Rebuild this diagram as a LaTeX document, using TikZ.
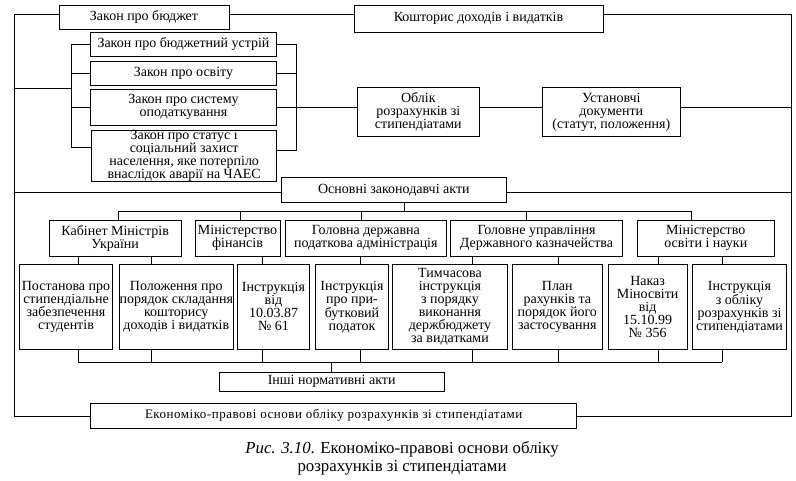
\documentclass[tikz,border=0pt]{standalone}
\usepackage{fontspec}
\setmainfont{Liberation Serif}
\usetikzlibrary{calc}
\tikzset{
  box/.style={draw, line width=0.9pt, inner sep=0pt, align=center, font=\fontsize{14}{13}\selectfont},
  smallbox/.style={box, font=\fontsize{13}{13}\selectfont\addfontfeature{LetterSpace=4}},
  conn/.style={line width=0.9pt},
  capt/.style={align=center, inner sep=0pt, font=\fontsize{16.8}{18}\selectfont}
}
\newcommand\bx[7][box]{\node[#1, minimum width={#5-#3}, minimum height={#6-#4}] (#2) at ({(#3+#5)/2},{(#4+#6)/2}) {#7};}
\begin{document}
\begin{tikzpicture}[x=1pt,y=-1pt]
\useasboundingbox (0,0) rectangle (796,481);
% top
\bx{zb}{59}{5}{229}{29}{Закон про бюджет}
\bx{kd}{354}{5}{603}{32}{Кошторис доходів і видатків}
\bx{l1}{90.3}{32.3}{276.7}{56}{Закон про бюджетний устрій}
\bx{l2}{90.3}{61}{276.7}{85.3}{Закон про освіту}
\bx{l3}{90.3}{89.3}{276.7}{125.3}{Закон про систему\\оподаткування}
\bx{l4}{91.7}{130}{276.7}{181.3}{Закон про статус і\\соціальний захист\\населення, яке потерпіло\\внаслідок аварії на ЧАЕС}
\bx{ob}{357.3}{87.3}{479.3}{136.7}{Облік\\розрахунків зі\\стипендіатами}
\bx{us}{542.7}{87.3}{680}{136.7}{Установчі\\документи\\(статут, положення)}
\bx{os}{281}{177.3}{506.7}{202.3}{Основні законодавчі акти}
% row 2
\bx{r2a}{49.3}{220}{181}{256.5}{Кабінет Міністрів\\України}
\bx{r2b}{195}{220}{280}{256.5}{Міністерство\\фінансів}
\bx{r2c}{285}{220}{446.7}{256.5}{Головна державна\\податкова адміністрація}
\bx{r2d}{450.7}{220}{622.3}{256.5}{Головне управління\\Державного казначейства}
\bx{r2e}{637.3}{220}{774.3}{256.5}{Міністерство\\освіти і науки}
% row 3
\bx{r3a}{19.3}{264}{112.7}{349.5}{Постанова про\\стипендіальне\\забезпечення\\студентів}
\bx{r3b}{120.3}{264}{232.3}{349.5}{Положення про\\порядок складання\\кошторису\\доходів і видатків}
\bx{r3c}{237.3}{264}{309.7}{349.5}{Інструкція\\від\\10.03.87\\№ 61}
\bx{r3d}{315.3}{264}{388.7}{349.5}{Інструкція\\про при-\\бутковий\\податок}
\bx{r3e}{392.3}{264}{507.7}{349.5}{Тимчасова\\інструкція\\з порядку\\виконання\\держбюджету\\за видатками}
\bx{r3f}{512.3}{264}{602.3}{349.5}{План\\рахунків та\\порядок його\\застосування}
\bx{r3g}{608.3}{264}{687}{349.5}{Наказ\\Міносвіти\\від\\15.10.99\\№ 356}
\bx{r3h}{692.3}{264}{786.7}{349.5}{Інструкція\\з обліку\\розрахунків зі\\стипендіатами}
\bx{ins}{219}{372.3}{444.3}{391.3}{Інші нормативні акти}
\bx[smallbox]{ek}{90.7}{403}{576.7}{428}{Економіко-правові основи обліку розрахунків зі стипендіатами}
\node[capt] (cap) at (402,458) {\textit{Рис. 3.10}. Економіко-правові основи обліку\\розрахунків зі стипендіатами};
% frame
\coordinate (lt) at (14.5,14);
\coordinate (lb) at (14.5,416.7);
\coordinate (rt) at (791,14);
\coordinate (rb) at (791,416.7);
\draw[conn] (zb.west |- lt) -- (lt) -- (lb) -- (ek.west |- lb);
\draw[conn] (zb.east |- lt) -- (kd.west |- lt);
\draw[conn] (kd.east |- rt) -- (rt) -- (rb) -- (ek.east |- rb);
\coordinate (ly) at (14.5,192);
\draw[conn] (ly) -- (ly -| os.west);
\draw[conn] (ly -| os.east) -- (ly -| rt);
% left group
\coordinate (gl) at (71.7,88);
\coordinate (gl4) at ($(l4.west)+(0,-8)$);
\draw[conn] (lt |- gl) -- (gl);
\draw[conn] (l1.west) -- (l1.west -| gl) -- (gl4 -| gl) -- (gl4);
\draw[conn] (l2.west) -- (l2.west -| gl);
\draw[conn] (l3.west) -- (l3.west -| gl);
% right group
\coordinate (gr) at (296.3,107.3);
\coordinate (gr4) at ($(l4.east)+(0,-5)$);
\draw[conn] (l1.east) -- (l1.east -| gr) -- (gr4 -| gr) -- (gr4);
\draw[conn] (l2.east) -- (l2.east -| gr);
\draw[conn] (l3.east) -- (ob.west |- l3.east);
\draw[conn] (ob.east |- l3.east) -- (us.west |- l3.east);
\draw[conn] (us.east |- l3.east) -- (rt |- l3.east);
% top bus
\coordinate (tb) at (404,211);
\coordinate (t1) at (118.3,211);
\coordinate (t2) at (240.3,211);
\coordinate (t3) at (361.7,211);
\coordinate (t4) at (526.7,211);
\coordinate (t5) at (691.7,211);
\draw[conn] (tb |- os.south) -- (tb);
\draw[conn] (t1) -- (t5);
\draw[conn] (t1) -- (t1 |- r2a.north);
\draw[conn] (t2) -- (t2 |- r2b.north);
\draw[conn] (t3) -- (t3 |- r2c.north);
\draw[conn] (t4) -- (t4 |- r2d.north);
\draw[conn] (t5) -- (t5 |- r2e.north);
% columns and bottom bus
\coordinate (c1) at (78,362);
\coordinate (c2) at (151.3,362);
\coordinate (c3) at (262,362);
\coordinate (c4) at (360,362);
\coordinate (c5) at (472,362);
\coordinate (c6) at (558,362);
\coordinate (c7) at (658.8,362);
\coordinate (c8) at (722,362);
\draw[conn] (c1 |- r2a.south) -- (c1 |- r3a.north);
\draw[conn] (c2 |- r2a.south) -- (c2 |- r3b.north);
\draw[conn] (c3 |- r2b.south) -- (c3 |- r3c.north);
\draw[conn] (c4 |- r2c.south) -- (c4 |- r3d.north);
\draw[conn] (c5 |- r2d.south) -- (c5 |- r3e.north);
\draw[conn] (c6 |- r2d.south) -- (c6 |- r3f.north);
\draw[conn] (c7 |- r2e.south) -- (c7 |- r3g.north);
\draw[conn] (c8 |- r2e.south) -- (c8 |- r3h.north);
\draw[conn] (c1 |- r3a.south) -- (c1);
\draw[conn] (c2 |- r3b.south) -- (c2);
\draw[conn] (c3 |- r3c.south) -- (c3);
\draw[conn] (c4 |- r3d.south) -- (c4);
\draw[conn] (c5 |- r3e.south) -- (c5);
\draw[conn] (c6 |- r3f.south) -- (c6);
\draw[conn] (c7 |- r3g.south) -- (c7);
\draw[conn] (c8 |- r3h.south) -- (c8);
\draw[conn] (c1) -- (c8);
\coordinate (ci) at (331,362);
\draw[conn] (ci) -- (ci |- ins.north);
\end{tikzpicture}
\end{document}
